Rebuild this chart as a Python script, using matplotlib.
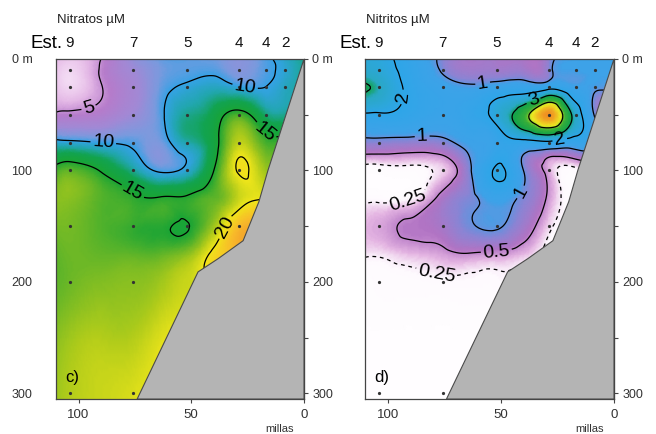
import numpy as np
import matplotlib
matplotlib.use('Agg')
from matplotlib import pyplot as plt
import matplotlib.tri as mtri
from matplotlib.colors import LinearSegmentedColormap, Normalize
from matplotlib.patches import Polygon

plt.rcParams['font.family'] = ['Liberation Sans', 'DejaVu Sans']

#------- datos -----------
dist = [110, 104, 90, 76, 64, 52, 40, 29, 17, 8.5, 0]              # millas
depth = [0, 10, 25, 50, 75, 100, 125, 150, 175, 200, 250, 305]     # m

nitrato = [
    [4.0, 3.5, 5.0, 8.0, 9.3, 9.5, 9.2, 8.5, 9.6, 10.8, 12.0],
    [3.6, 3.0, 5.2, 7.5, 9.0, 9.5, 9.6, 8.6, 9.6, 10.5, 12.0],
    [3.6, 3.0, 4.9, 7.0, 9.2, 10.3, 11.0, 10.2, 10.0, 11.0, 12.0],
    [5.3, 5.5, 6.0, 7.6, 9.5, 12.0, 13.5, 16.0, 12.5, 12.0, 12.0],
    [10.7, 10.5, 10.0, 9.6, 9.0, 11.5, 14.0, 18.8, 16.0, 16.0, 16.0],
    [15.8, 16.5, 14.8, 12.0, 9.7, 10.6, 15.0, 20.2, 18.0, 18.0, 18.0],
    [17.5, 17.5, 16.3, 15.5, 15.2, 15.3, 16.5, 19.0, 20.0, 20.0, 20.0],
    [17.0, 17.0, 16.2, 15.6, 15.3, 14.85, 18.0, 22.0, 22.0, 22.0, 22.0],
    [16.5, 16.8, 16.6, 16.5, 16.5, 17.5, 20.5, 22.0, 22.0, 22.0, 22.0],
    [16.5, 16.8, 17.3, 17.5, 18.0, 19.0, 20.0, 20.0, 20.0, 20.0, 20.0],
    [17.5, 18.0, 18.5, 18.5, 19.5, 20.0, 20.0, 20.0, 20.0, 20.0, 20.0],
    [18.0, 18.5, 19.0, 19.5, 20.0, 20.0, 20.0, 20.0, 20.0, 20.0, 20.0],
]

nitrito = [
    [2.4, 2.3, 1.6, 0.9, 0.65, 0.65, 0.6, 0.8, 1.15, 1.2, 1.2],
    [2.6, 2.4, 1.7, 0.95, 0.7, 0.7, 0.7, 0.85, 1.15, 1.2, 1.2],
    [3.05, 2.8, 1.8, 1.3, 1.1, 1.3, 1.4, 1.6, 1.2, 1.1, 1.1],
    [1.9, 1.9, 1.7, 1.4, 1.6, 2.3, 3.6, 4.9, 2.6, 0.95, 0.95],
    [0.85, 0.85, 0.8, 0.85, 1.2, 1.5, 1.7, 1.8, 1.5, 1.2, 1.2],
    [0.15, 0.15, 0.18, 0.3, 0.9, 2.1, 1.0, 0.4, 0.2, 0.2, 0.2],
    [0.2, 0.2, 0.22, 0.6, 0.9, 1.3, 0.9, 0.45, 0.2, 0.2, 0.2],
    [0.35, 0.4, 0.55, 0.65, 0.95, 1.05, 0.7, 0.3, 0.2, 0.2, 0.2],
    [0.27, 0.27, 0.35, 0.42, 0.48, 0.45, 0.35, 0.2, 0.2, 0.2, 0.2],
    [0.15, 0.18, 0.2, 0.22, 0.22, 0.22, 0.2, 0.2, 0.2, 0.2, 0.2],
    [0.1, 0.1, 0.1, 0.1, 0.1, 0.1, 0.1, 0.1, 0.1, 0.1, 0.1],
    [0.1, 0.1, 0.1, 0.1, 0.1, 0.1, 0.1, 0.1, 0.1, 0.1, 0.1],
]

est_labels = ['9', '7', '5', '4', '4', '2']
est_dist = [104, 75.7, 51.8, 28.8, 16.8, 8.4]
est_depths = [
    [10, 25, 50, 75, 100, 150, 200, 300],
    [10, 25, 50, 75, 100, 150, 200, 300],
    [10, 25, 50, 75, 100, 150],
    [10, 25, 50, 75, 100, 150],
    [10, 25, 50],
    [10, 25],
]

fondo_dist = [0, 16, 20, 27, 38, 47, 74, 0]
fondo_depth = [0, 100, 128, 163, 179, 191, 305, 305]

#------- colores -----------
anch_nitrato = [(2, '#fdf2fd'), (4, '#e4b8e6'), (5.5, '#b67ccb'), (7.5, '#a08ad6'),
                (9, '#7c9ade'), (10, '#35a2e6'), (11.5, '#22a6b0'), (13, '#12a350'),
                (15, '#1aa435'), (17, '#74ba25'), (18.5, '#b2cc1a'), (20, '#f0e61a'),
                (22, '#f8bc2a'), (24, '#f0902a')]
anch_nitrito = [(0.0, '#ffffff'), (0.22, '#fefafe'), (0.35, '#e4b4e2'), (0.55, '#b274c4'),
                (0.85, '#8c84d4'), (1.15, '#3ea2e8'), (2.0, '#2ea6e8'), (2.8, '#2aa8c4'),
                (3.05, '#12a34c'), (3.8, '#3cb038'), (4.2, '#eeee22'), (4.9, '#f09022')]


def anchored_cmap(anchors):
    lo, hi = anchors[0][0], anchors[-1][0]
    cm = LinearSegmentedColormap.from_list(
        'c', [((v - lo) / (hi - lo), c) for v, c in anchors])
    return cm, Normalize(lo, hi)


def panel(ax, z, anchors, levels, styles, fmt, label_pos, title, letter, left_labels):
    X, Y = np.meshgrid(dist, depth)
    tri = mtri.Triangulation(X.ravel(), Y.ravel())
    refiner = mtri.UniformTriRefiner(tri)
    tri_f, z_f = refiner.refine_field(np.array(z, dtype=float).ravel(), subdiv=4)
    cmap, norm = anchored_cmap(anchors)
    ax.tripcolor(tri_f, z_f, cmap=cmap, norm=norm, shading='gouraud', rasterized=True)
    cs = ax.tricontour(tri_f, z_f, levels=levels, colors='black',
                       linewidths=0.9, linestyles=styles)
    lbls = ax.clabel(cs, levels=list(fmt.keys()), manual=label_pos, inline=True,
                     inline_spacing=2, fontsize=14, fmt=fmt)
    for t in lbls:
        t.set_zorder(6)

    ax.add_patch(Polygon(list(zip(fondo_dist, fondo_depth)), closed=True,
                         facecolor='#b4b4b4', edgecolor='#4a4a4a', lw=0.8, zorder=4))

    for xs, ds in zip(est_dist, est_depths):
        ax.plot([xs] * len(ds), ds, 'o', ms=1.3, color='#333333', zorder=5)

    ax.set_xlim(110, 0)
    ax.set_ylim(305, 0)

    # estaciones arriba
    trans = ax.get_xaxis_transform()
    for xs, lb in zip(est_dist, est_labels):
        ax.text(xs, 1.047, lb, transform=trans, ha='center', va='center',
                fontsize=11, color='#111111')
    ax.annotate('Est.', xy=(est_dist[0], 1.047), xycoords=trans, xytext=(-5, 0),
                textcoords='offset points', ha='right', va='center', fontsize=13.5)
    ax.text(0.005, 1.115, title, transform=ax.transAxes, ha='left', va='center',
            fontsize=9.5, color='#222222')
    ax.text(0.036, 0.062, letter, transform=ax.transAxes, ha='left', va='center',
            fontsize=12, zorder=7)
    ax.text(0.9, -0.088, 'millas', transform=ax.transAxes, ha='center', va='center',
            fontsize=8, color='#333333')

    ax.set_xticks([100, 50, 0])
    ax.set_xticklabels(['100', '50', '0'])
    ax.tick_params(axis='x', direction='out', length=3, width=0.8, pad=4,
                   labelsize=9.5, labelcolor='#333333', color='#444444')

    yt = [0, 100, 200, 300]
    ylab = ['0 m', '100', '200', '300']
    if left_labels:
        ax.set_yticks(yt)
        ax.set_yticklabels(ylab)
        ax.tick_params(axis='y', length=0, pad=17, labelsize=9, labelcolor='#333333')
    else:
        ax.set_yticks([])
    sec = ax.secondary_yaxis('right')
    sec.set_yticks(yt)
    sec.set_yticklabels(ylab)
    sec.set_yticks([50, 150, 250], minor=True)
    sec.tick_params(which='both', direction='out', length=3, width=0.8, pad=3,
                    labelsize=9, labelcolor='#333333', color='#444444')
    sec.spines['right'].set_color('#444444')
    for s in ax.spines.values():
        s.set_color('#444444')
        s.set_linewidth(0.9)


fig = plt.figure(figsize=(6.56, 4.34), dpi=100)
ax1 = fig.add_axes([56 / 656, 1 - 399 / 434, 248 / 656, 340 / 434])
ax2 = fig.add_axes([365 / 656, 1 - 399 / 434, 249 / 656, 340 / 434])

panel(ax1, nitrato, anch_nitrato, [5, 10, 15, 20], ['-'] * 4,
      {5: '5', 10: '10', 15: '15', 20: '20'},
      [(96, 40), (89, 74), (26, 23), (74, 113), (19, 69), (33, 153)],
      'Nitratos µM', 'c)', True)

panel(ax2, nitrito, anch_nitrito, [0.25, 0.5, 1, 2, 3, 4],
      [(0, (3, 3)), '-', '-', '-', '-', '-'],
      {0.25: '0.25', 0.5: '0.5', 1: '1', 2: '2', 3: '3'},
      [(94, 34), (58, 22), (85, 60), (35, 41), (24, 72), (92, 119),
       (52, 169), (78, 190), (42, 119)],
      'Nitritos µM', 'd)', False)

fig.savefig('out.png', dpi=100)
